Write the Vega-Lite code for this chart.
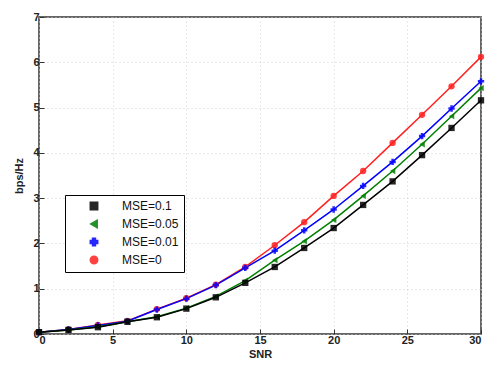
{
  "$schema": "https://vega.github.io/schema/vega-lite/v6.json",
  "width": 442,
  "height": 317,
  "autosize": {"type": "none"},
  "padding": {"left": 39, "top": 17, "right": 5, "bottom": 33},
  "background": "white",
  "config": {
    "view": {"stroke": "#333333", "strokeWidth": 1.5},
    "font": "Liberation Sans",
    "axis": {
      "labelFont": "Liberation Sans", "labelFontSize": 11, "labelFontWeight": "bold", "labelColor": "#222",
      "titleFont": "Liberation Sans", "titleFontSize": 11, "titleFontWeight": "bold", "titleColor": "#222",
      "grid": true, "gridColor": "#d0d0d0", "gridDash": [1, 3], "gridWidth": 1,
      "domain": false, "tickColor": "#333", "tickSize": -5, "labelPadding": 5
    }
  },
  "data": {"values": [
    {"snr":0,"series":"MSE=0","bps":0.04},{"snr":2,"series":"MSE=0","bps":0.10},{"snr":4,"series":"MSE=0","bps":0.20},{"snr":6,"series":"MSE=0","bps":0.29},{"snr":8,"series":"MSE=0","bps":0.55},{"snr":10,"series":"MSE=0","bps":0.79},{"snr":12,"series":"MSE=0","bps":1.09},{"snr":14,"series":"MSE=0","bps":1.48},{"snr":16,"series":"MSE=0","bps":1.96},{"snr":18,"series":"MSE=0","bps":2.47},{"snr":20,"series":"MSE=0","bps":3.05},{"snr":22,"series":"MSE=0","bps":3.60},{"snr":24,"series":"MSE=0","bps":4.22},{"snr":26,"series":"MSE=0","bps":4.84},{"snr":28,"series":"MSE=0","bps":5.47},{"snr":30,"series":"MSE=0","bps":6.12},
    {"snr":0,"series":"MSE=0.01","bps":0.04},{"snr":2,"series":"MSE=0.01","bps":0.10},{"snr":4,"series":"MSE=0.01","bps":0.19},{"snr":6,"series":"MSE=0.01","bps":0.28},{"snr":8,"series":"MSE=0.01","bps":0.54},{"snr":10,"series":"MSE=0.01","bps":0.78},{"snr":12,"series":"MSE=0.01","bps":1.08},{"snr":14,"series":"MSE=0.01","bps":1.46},{"snr":16,"series":"MSE=0.01","bps":1.84},{"snr":18,"series":"MSE=0.01","bps":2.29},{"snr":20,"series":"MSE=0.01","bps":2.75},{"snr":22,"series":"MSE=0.01","bps":3.27},{"snr":24,"series":"MSE=0.01","bps":3.80},{"snr":26,"series":"MSE=0.01","bps":4.37},{"snr":28,"series":"MSE=0.01","bps":4.98},{"snr":30,"series":"MSE=0.01","bps":5.58},
    {"snr":0,"series":"MSE=0.05","bps":0.04},{"snr":2,"series":"MSE=0.05","bps":0.09},{"snr":4,"series":"MSE=0.05","bps":0.16},{"snr":6,"series":"MSE=0.05","bps":0.27},{"snr":8,"series":"MSE=0.05","bps":0.38},{"snr":10,"series":"MSE=0.05","bps":0.57},{"snr":12,"series":"MSE=0.05","bps":0.83},{"snr":14,"series":"MSE=0.05","bps":1.18},{"snr":16,"series":"MSE=0.05","bps":1.63},{"snr":18,"series":"MSE=0.05","bps":2.05},{"snr":20,"series":"MSE=0.05","bps":2.52},{"snr":22,"series":"MSE=0.05","bps":3.05},{"snr":24,"series":"MSE=0.05","bps":3.60},{"snr":26,"series":"MSE=0.05","bps":4.19},{"snr":28,"series":"MSE=0.05","bps":4.81},{"snr":30,"series":"MSE=0.05","bps":5.43},
    {"snr":0,"series":"MSE=0.1","bps":0.04},{"snr":2,"series":"MSE=0.1","bps":0.09},{"snr":4,"series":"MSE=0.1","bps":0.15},{"snr":6,"series":"MSE=0.1","bps":0.27},{"snr":8,"series":"MSE=0.1","bps":0.37},{"snr":10,"series":"MSE=0.1","bps":0.56},{"snr":12,"series":"MSE=0.1","bps":0.81},{"snr":14,"series":"MSE=0.1","bps":1.13},{"snr":16,"series":"MSE=0.1","bps":1.48},{"snr":18,"series":"MSE=0.1","bps":1.90},{"snr":20,"series":"MSE=0.1","bps":2.34},{"snr":22,"series":"MSE=0.1","bps":2.85},{"snr":24,"series":"MSE=0.1","bps":3.37},{"snr":26,"series":"MSE=0.1","bps":3.95},{"snr":28,"series":"MSE=0.1","bps":4.55},{"snr":30,"series":"MSE=0.1","bps":5.16}
  ]},
  "encoding": {
    "x": {"field": "snr", "type": "quantitative", "title": "SNR",
          "scale": {"domain": [0, 30], "nice": false, "zero": false},
          "axis": {"values": [0,5,10,15,20,25,30], "titlePadding": 3}},
    "y": {"field": "bps", "type": "quantitative", "title": "bps/Hz",
          "scale": {"domain": [0, 7], "nice": false},
          "axis": {"values": [0,1,2,3,4,5,6,7], "titlePadding": 8}},
    "color": {"field": "series", "type": "nominal",
              "scale": {"domain": ["MSE=0.1","MSE=0.05","MSE=0.01","MSE=0"], "range": ["#000000","#008000","#0000ff","#ff2020"]},
              "legend": {"title": null, "orient": "none", "legendX": 26, "legendY": 178,
                         "strokeColor": "#000", "fillColor": "white", "padding": 5,
                         "labelFontSize": 12, "labelFont": "Liberation Sans", "labelColor": "#111",
                         "symbolSize": 55, "symbolStrokeWidth": 1.5, "rowPadding": 4,
                         "symbolOffset": 18, "labelOffset": 22}}
  },
  "layer": [
    {"mark": {"type": "line", "strokeWidth": 1.5}},
    {"mark": {"type": "point", "filled": true, "size": 40, "strokeWidth": 1.2, "opacity": 0.85},
     "encoding": {"shape": {"field": "series", "type": "nominal",
                            "scale": {"domain": ["MSE=0.1","MSE=0.05","MSE=0.01","MSE=0"], "range": ["square","triangle-left","cross","circle"]}}}}
  ]
}
